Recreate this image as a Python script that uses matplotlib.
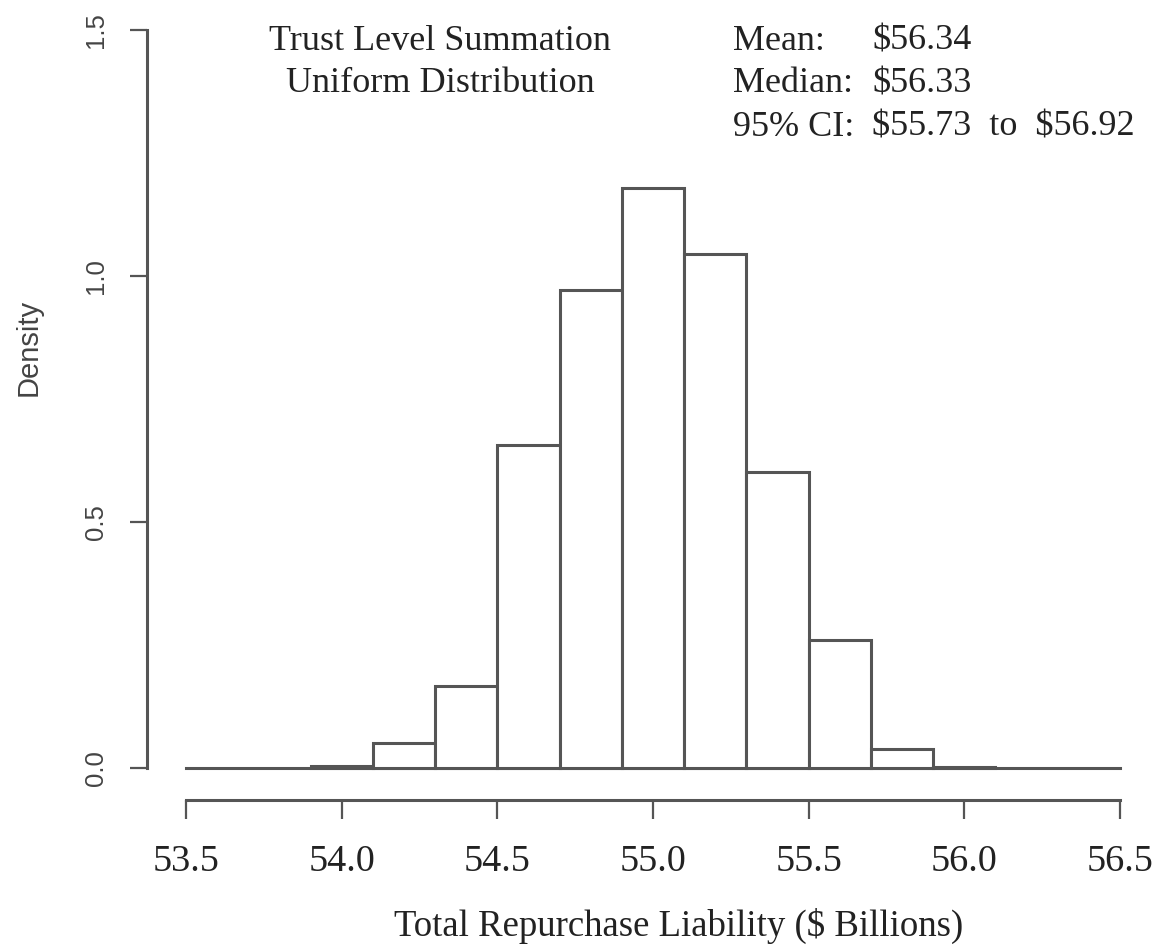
import matplotlib
matplotlib.use("Agg")
import matplotlib.pyplot as plt

# histogram of simulated totals (density scale), bins of 0.2
bin_edges = [53.9, 54.1, 54.3, 54.5, 54.7, 54.9, 55.1, 55.3, 55.5, 55.7, 55.9, 56.1]
density = [0.005, 0.051, 0.167, 0.657, 0.972, 1.179, 1.045, 0.602, 0.260, 0.039, 0.003]

x_ticks = [53.5, 54.0, 54.5, 55.0, 55.5, 56.0, 56.5]
y_ticks = [0.0, 0.5, 1.0, 1.5]

title_lines = ["Trust Level Summation", "Uniform Distribution"]
stat_labels = ["Mean:", "Median:", "95% CI:"]
stat_values = ["$56.34", "$56.33", "$55.73  to  $56.92"]

W, H = 1157, 946
serif = "Liberation Serif"
sans = "Liberation Sans"
col = "#555555"
txt = "#222222"

fig = plt.figure(figsize=(W / 100, H / 100), dpi=100)
ax = fig.add_axes([186 / W, (H - 768) / H, 934 / W, 738 / H])

widths = [b - a for a, b in zip(bin_edges[:-1], bin_edges[1:])]
ax.axhline(0, color=col, lw=2.2, clip_on=False, zorder=1)
ax.bar(bin_edges[:-1], density, width=widths, align="edge",
       facecolor="white", edgecolor=col, linewidth=2.2, clip_on=False, zorder=2)

ax.set_xlim(53.5, 56.5)
ax.set_ylim(0, 1.5)

for s in ["top", "right"]:
    ax.spines[s].set_visible(False)
ax.spines["bottom"].set_position(("outward", 23))
ax.spines["left"].set_position(("outward", 28))
ax.spines["bottom"].set_bounds(53.5, 56.5)
ax.spines["left"].set_bounds(0, 1.5)
for s in ["bottom", "left"]:
    ax.spines[s].set_color(col)
    ax.spines[s].set_linewidth(2.2)

ax.set_xticks(x_ticks)
ax.set_xticklabels([f"{v:.1f}" for v in x_ticks], fontfamily=serif, fontsize=27.5)
ax.set_yticks(y_ticks)
ax.set_yticklabels([f"{v:.1f}" for v in y_ticks], fontfamily=sans, fontsize=18.5,
                   rotation=90, va="center")
ax.tick_params(axis="x", length=14, width=1.6, color=col, pad=18, labelcolor=txt)
ax.tick_params(axis="y", length=12, width=1.6, color=col, pad=16, labelcolor="#444444")

# axis titles and annotations placed in figure pixels
def ftext(x, y, s, **kw):
    kw.setdefault("fontfamily", serif)
    kw.setdefault("fontsize", 26)
    kw.setdefault("color", txt)
    fig.text(x / W, 1 - y / H, s, va="center", parse_math=False, **kw)

ftext(679, 926, "Total Repurchase Liability ($ Billions)", ha="center", fontsize=26.5)
ftext(29, 347, "Density", ha="center", rotation=90, fontfamily=sans,
      fontsize=21, color="#444444")

for i, line in enumerate(title_lines):
    ftext(440, 41 + 43 * i, line, ha="center")
for i, (lab, val) in enumerate(zip(stat_labels, stat_values)):
    ftext(733, 41 + 43 * i, lab, ha="left")
    ftext(872, 41 + 43 * i, val, ha="left")

fig.savefig("out.png", dpi=100)
